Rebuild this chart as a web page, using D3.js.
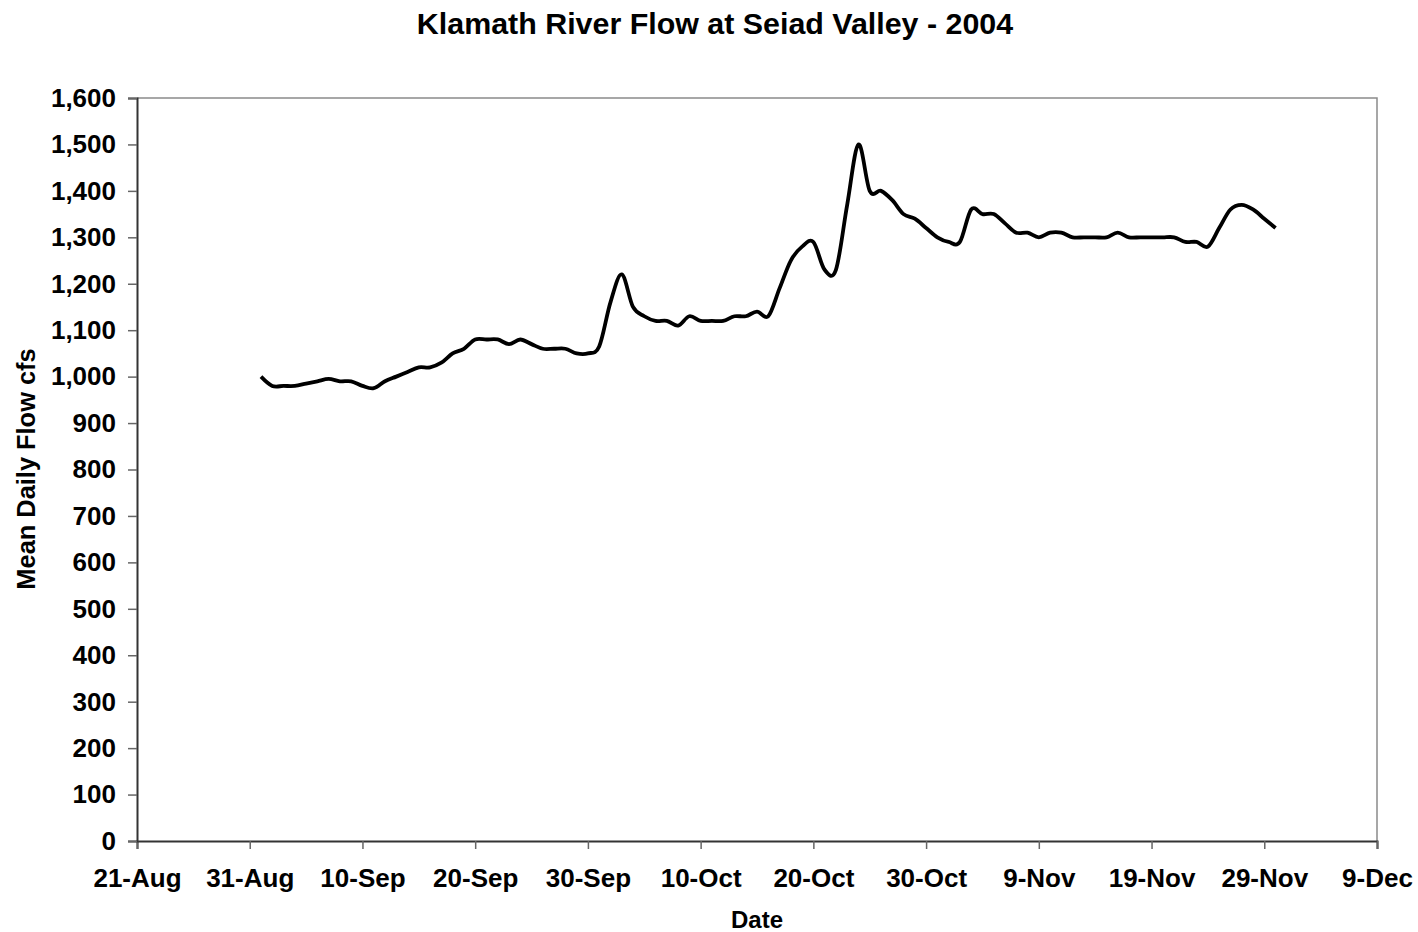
<!DOCTYPE html>
<html><head><meta charset="utf-8">
<script src="https://cdn.jsdelivr.net/npm/d3@7"></script>
<style>
html,body{margin:0;padding:0;background:#fff;}
svg{display:block;font-family:"Liberation Sans",Arial,sans-serif;font-weight:bold;}
</style></head>
<body><div id="chart"></div>
<script>
// Data: mean daily flow (cfs), one value per day starting 1-Sep-2004
const startDate = "2004-09-01";
const flowValues = [
  1000, 980, 980, 980, 985, 990, 995, 990, 990, 980,
  975, 990, 1000, 1010, 1020, 1020, 1030, 1050, 1060, 1080,
  1080, 1080, 1070, 1080, 1070, 1060, 1060, 1060, 1050, 1050,
  1065, 1160, 1220, 1150, 1130, 1120, 1120, 1110, 1130, 1120,
  1120, 1120, 1130, 1130, 1140, 1130, 1190, 1250, 1280, 1290,
  1230, 1230, 1370, 1500, 1400, 1400, 1380, 1350, 1340, 1320,
  1300, 1290, 1290, 1360, 1350, 1350, 1330, 1310, 1310, 1300,
  1310, 1310, 1300, 1300, 1300, 1300, 1310, 1300, 1300, 1300,
  1300, 1300, 1290, 1290, 1280, 1320, 1360, 1370, 1360, 1340,
  1320
];
const xTickLabels = ["21-Aug","31-Aug","10-Sep","20-Sep","30-Sep","10-Oct","20-Oct","30-Oct","9-Nov","19-Nov","29-Nov","9-Dec"];
const yTickValues = [0,100,200,300,400,500,600,700,800,900,1000,1100,1200,1300,1400,1500,1600];
const titleText = "Klamath River Flow at Seiad Valley - 2004";
const xTitle = "Date";
const yTitle = "Mean Daily Flow cfs";

const W = 1418, H = 932;
const m = {left:137, top:98, right:1377, bottom:841};

const parseTick = d3.timeParse("%d-%b-%Y");
const tickDates = xTickLabels.map(s => parseTick(s + "-2004"));
const start = d3.timeParse("%Y-%m-%d")(startDate);
const data = flowValues.map((v,i) => ({date: d3.timeDay.offset(start, i), value: v}));

const x = d3.scaleTime().domain([tickDates[0], tickDates[tickDates.length-1]]).range([m.left, m.right]);
const y = d3.scaleLinear().domain([0,1600]).range([m.bottom, m.top]);

const svg = d3.select("#chart").append("svg").attr("width", W).attr("height", H);

// plot border (top/right)
svg.append("path")
  .attr("d", `M${m.left},${m.top}H${m.right}V${m.bottom}`)
  .attr("fill","none").attr("stroke","#8a8a8a").attr("stroke-width",1.5);

// x axis
const fmt = d3.timeFormat("%-d-%b");
const gx = svg.append("g").attr("transform", `translate(0,${m.bottom})`)
  .call(d3.axisBottom(x).tickValues(tickDates).tickFormat(fmt).tickSize(8).tickPadding(20));
gx.select(".domain").attr("stroke","#333").attr("stroke-width",2);
gx.selectAll(".tick line").attr("stroke","#666").attr("stroke-width",1.5);
gx.selectAll(".tick text").attr("font-size",26).attr("font-weight","bold").attr("fill","#000")
  .attr("font-family","Liberation Sans, Arial, sans-serif");

// y axis
const gy = svg.append("g").attr("transform", `translate(${m.left},0)`)
  .call(d3.axisLeft(y).tickValues(yTickValues).tickFormat(d3.format(",")).tickSize(9).tickPadding(12));
gy.select(".domain").attr("stroke","#333").attr("stroke-width",2);
gy.selectAll(".tick line").attr("stroke","#666").attr("stroke-width",1.5);
gy.selectAll(".tick text").attr("font-size",26).attr("font-weight","bold").attr("fill","#000")
  .attr("font-family","Liberation Sans, Arial, sans-serif");

// line
const line = d3.line().x(d => x(d.date)).y(d => y(d.value)).curve(d3.curveCardinal.tension(0));
svg.append("path").datum(data).attr("d", line)
  .attr("fill","none").attr("stroke","#000").attr("stroke-width",3.8)
  .attr("stroke-linejoin","round").attr("stroke-linecap","butt");

// titles
svg.append("text").attr("x", 715).attr("y", 34).attr("text-anchor","middle")
  .attr("font-size",30.4).text(titleText);
svg.append("text").attr("x", 757).attr("y", 928).attr("text-anchor","middle")
  .attr("font-size",24).text(xTitle);
svg.append("text").attr("transform", "translate(35,469) rotate(-90)").attr("text-anchor","middle")
  .attr("font-size",25.4).text(yTitle);
</script>
</body></html>
